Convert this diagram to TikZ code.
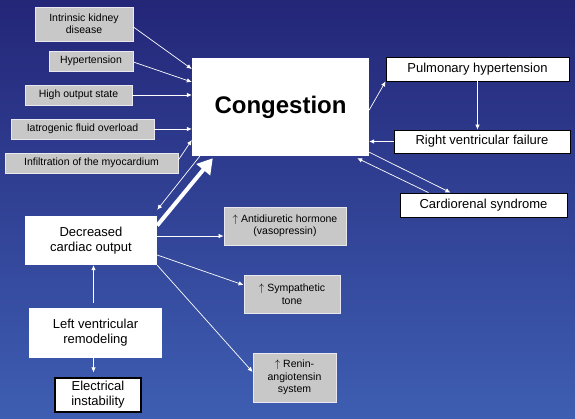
\documentclass[tikz,border=0pt]{standalone}
\usepackage{fontspec}
\setmainfont{Liberation Sans}
\usetikzlibrary{arrows.meta,calc}

\definecolor{bgtop}{RGB}{36,38,120}
\definecolor{bgbot}{RGB}{62,94,178}
\definecolor{causegray}{RGB}{200,200,200}
\definecolor{causeline}{RGB}{232,232,238}

\tikzset{
  cause/.style={draw=causeline, fill=causegray, line width=0.8pt, inner sep=0pt,
    align=center, font=\fontsize{10.5}{12.5}\selectfont},
  effect/.style={draw=black, fill=white, line width=0.8pt, inner sep=0pt,
    align=center, font=\fontsize{13}{15}\selectfont},
  heart/.style={fill=white, inner sep=0pt, align=center, font=\fontsize{13}{15}\selectfont},
  link/.style={->, white, line width=0.7pt},
}

\begin{document}
\begin{tikzpicture}[x=1pt,y=-1pt,>={Latex[length=5pt,width=4.5pt]}]
    % background
    \fill[top color=bgtop, bottom color=bgbot] (0,0) rectangle (575,419);
    \useasboundingbox (0,0) rectangle (575,419);

    % causes of congestion
    \node[cause, minimum width=98pt,  minimum height=34pt] (kidney) at (84,24)    {Intrinsic kidney\\disease};
    \node[cause, minimum width=84pt,  minimum height=20pt] (hyper)  at (91,61)    {Hypertension};
    \node[cause, minimum width=107pt, minimum height=20pt] (output) at (78.5,95)  {High output state};
    \node[cause, minimum width=143pt, minimum height=20pt] (fluid)  at (82.5,129) {Iatrogenic fluid overload};
    \node[cause, minimum width=173pt, minimum height=20pt] (infil)  at (91.5,163) {Infiltration of the myocardium};

    \node[fill=white, minimum width=177pt, minimum height=98pt,
          font=\fontsize{24}{28}\selectfont\bfseries] (cong) at (280.5,107) {Congestion};

    % right side
    \node[effect, minimum width=183pt, minimum height=24pt] (pulm)   at (477.5,69)  {Pulmonary hypertension};
    \node[effect, minimum width=176pt, minimum height=23pt] (rvf)    at (482,141.5) {Right ventricular failure};
    \node[effect, minimum width=167pt, minimum height=24pt] (cardio) at (483.5,205)  {Cardiorenal syndrome};

    % left ventricle
    \node[heart, minimum width=132pt, minimum height=49pt] (dco) at (91,240.5) {Decreased\\cardiac output};
    \node[heart, minimum width=133pt, minimum height=50pt] (lvr) at (95.5,333) {Left ventricular\\remodeling};
    \node[effect, line width=1.2pt, minimum width=86pt, minimum height=34pt] (elec) at (98,395) {Electrical\\instability};

    % neurohormonal
    \node[cause, minimum width=122pt, minimum height=38pt] (adh)   at (285,226)   {$\uparrow$ Antidiuretic hormone\\(vasopressin)};
    \node[cause, minimum width=96pt,  minimum height=38pt] (symp)  at (292,294)   {$\uparrow$ Sympathetic\\tone};
    \node[cause, minimum width=83pt,  minimum height=49pt] (renin) at (294.5,377.5) {$\uparrow$ Renin-\\angiotensin\\system};

    \path[link] ([yshift=-3pt]kidney.east) edge ([yshift=38pt]cong.west)
                ([yshift=-1pt]hyper.east)  edge ([yshift=25pt]cong.west)
                (output.east)              edge (output.east -| cong.west)
                (fluid.east)               edge (fluid.east -| cong.west)
                ([yshift=3pt]infil.east)   edge ([yshift=-33pt]cong.west);

    \path[link] ([yshift=-3pt]cong.east)          edge (pulm.south west)
                (pulm.south)                      edge (pulm.south |- rvf.north)
                (rvf.west)                        edge (rvf.west -| cong.east)
                ([yshift=4pt]cong.south east)     edge ([xshift=-33pt]cardio.north)
                ([xshift=-55pt]cardio.north)      edge ([xshift=-12pt,yshift=-2pt]cong.south east)
                ([xshift=8pt]cong.south west)     edge ([yshift=6pt]dco.north east);

    \draw[white, line width=4pt, -{Triangle[length=15pt,width=17pt]}]
        ([yshift=15pt]dco.east) -- ([xshift=21pt,yshift=-2pt]cong.south west);

    \path[link] ([yshift=4.5pt]dco.east)   edge ([yshift=-10pt]adh.west)
                ([yshift=-14.5pt]dco.east) edge ([yshift=9pt]symp.west)
                (dco.south east)           edge ([yshift=5.5pt]renin.west)
                ([xshift=-2pt]lvr.north)   edge[shorten <=5pt] ([xshift=-2pt]lvr.north |- dco.south)
                ([xshift=-2pt]lvr.south)   edge[shorten >=5pt] ([xshift=-2pt]lvr.south |- elec.north);
\end{tikzpicture}
\end{document}
